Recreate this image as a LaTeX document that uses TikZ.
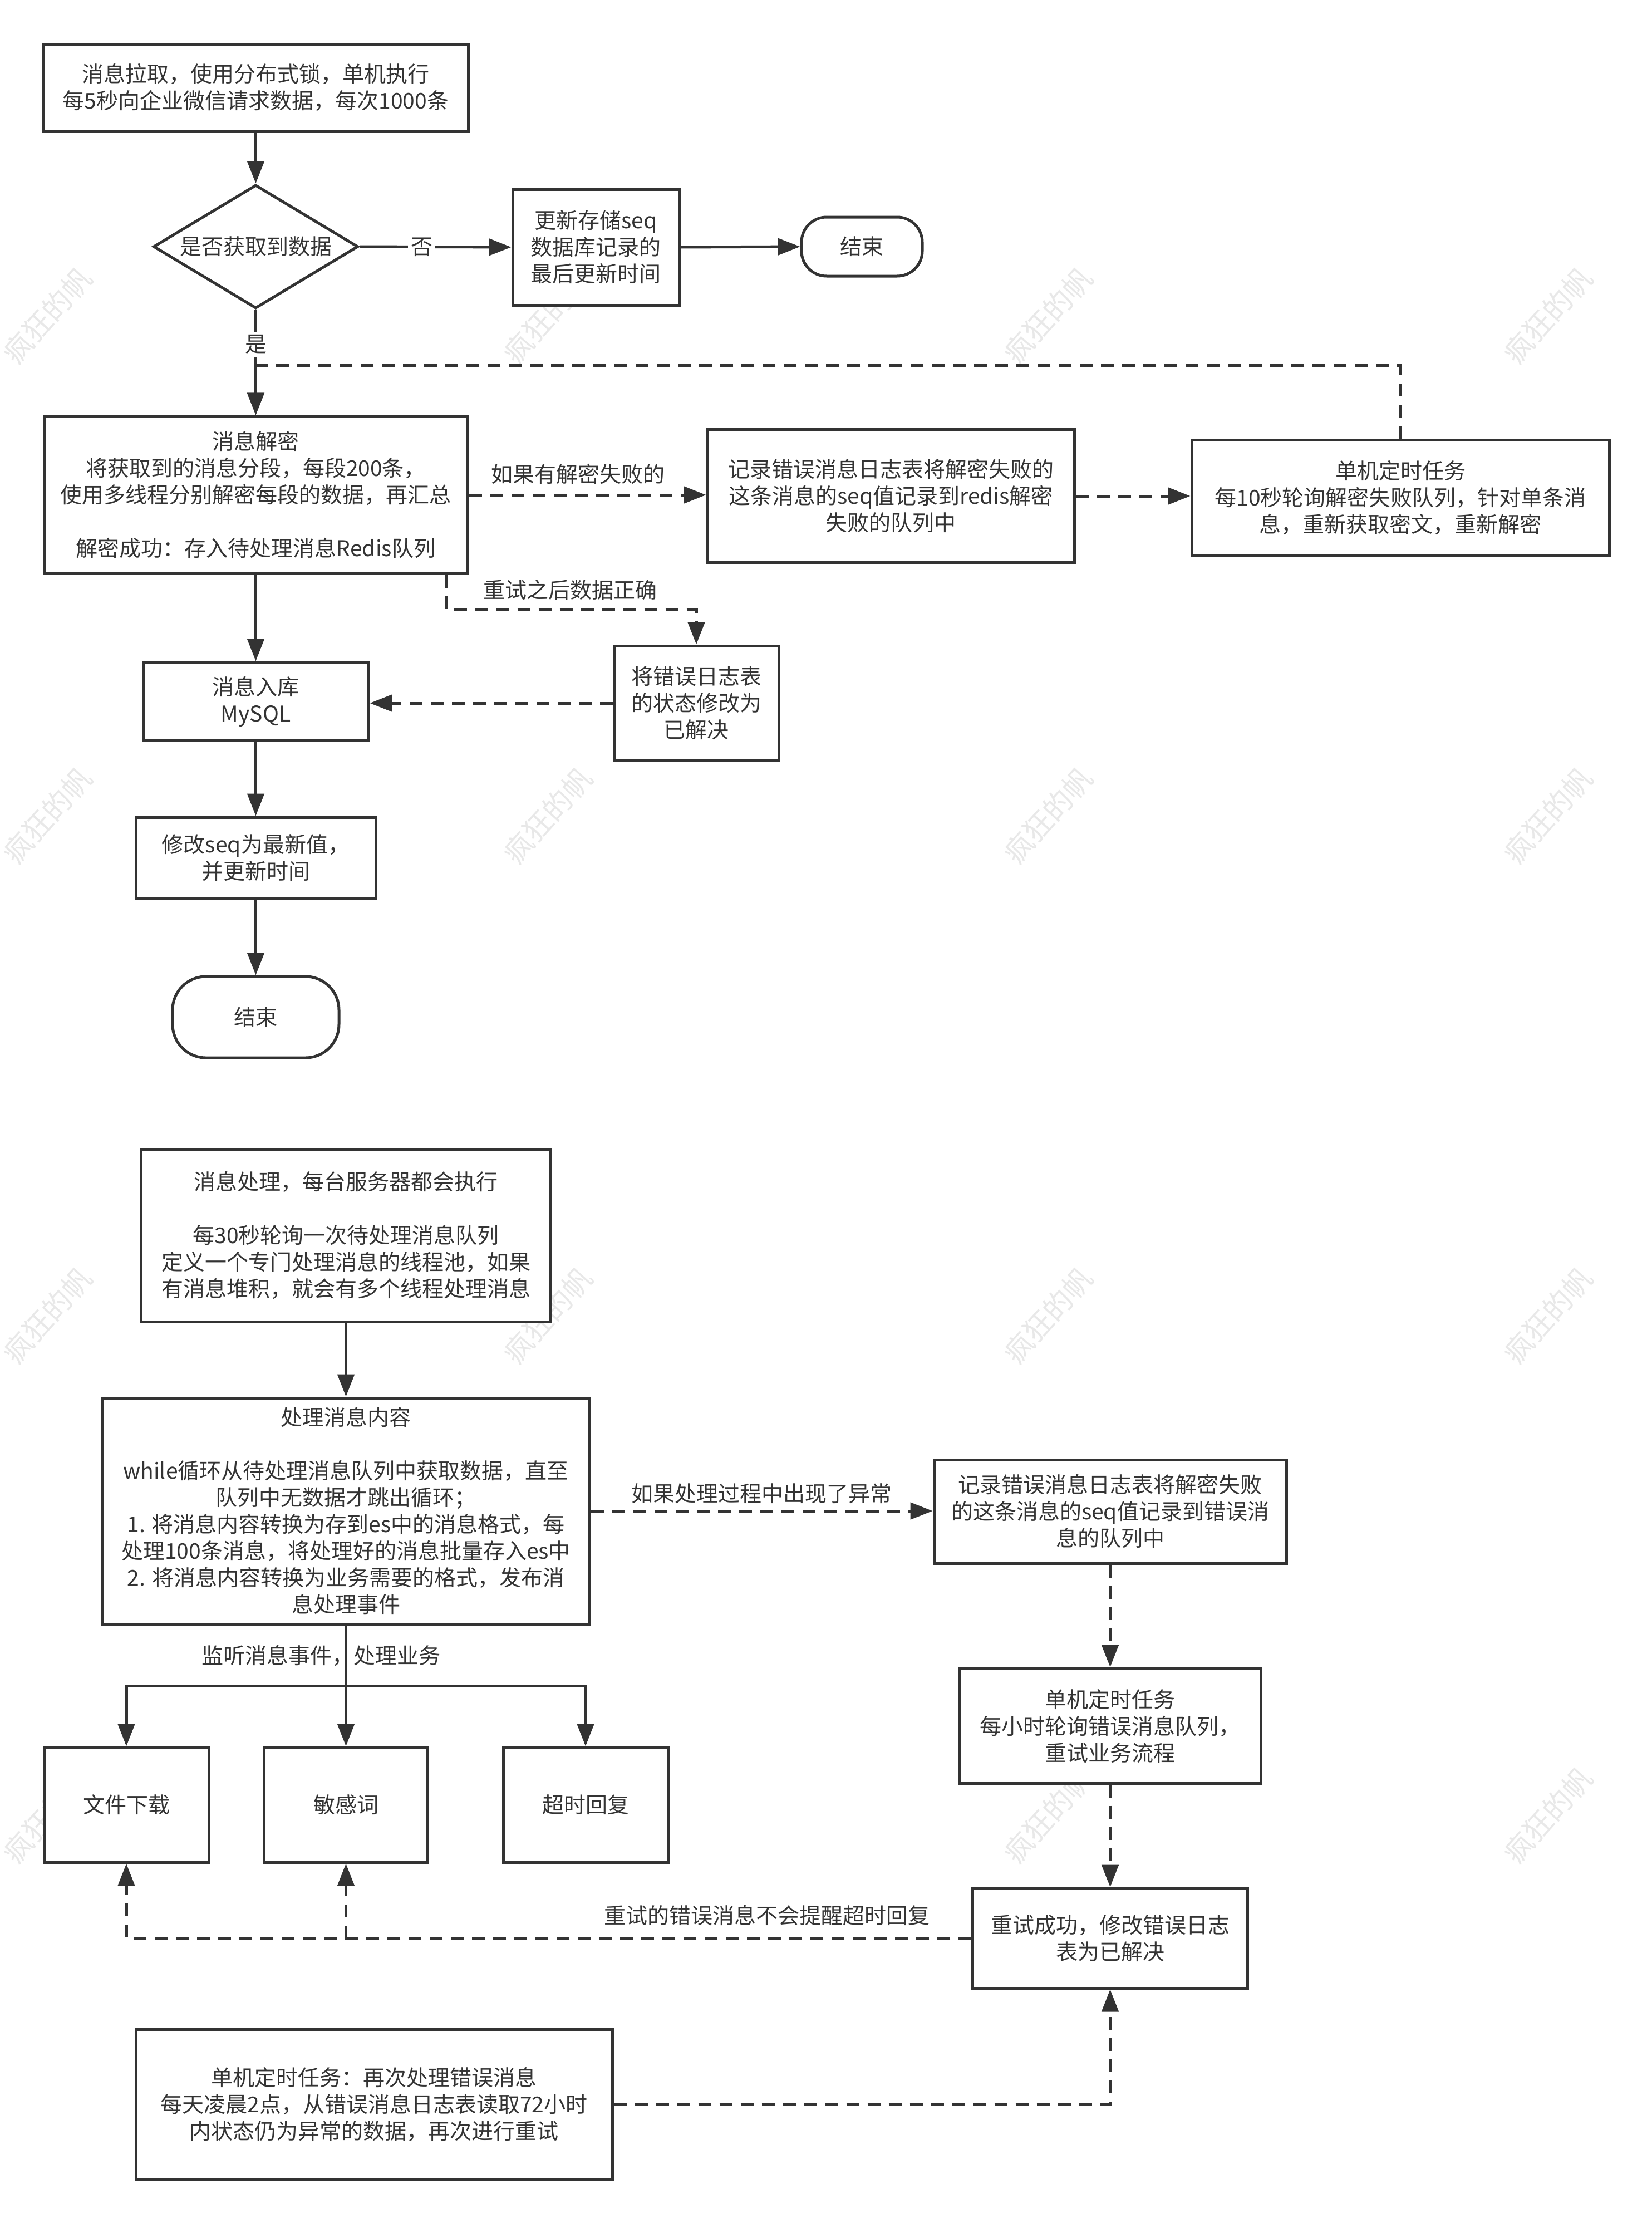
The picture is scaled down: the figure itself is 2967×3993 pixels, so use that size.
\documentclass[tikz,border=0pt]{standalone}
\usepackage{fontspec}
\setmainfont{Noto Sans CJK SC}
\usetikzlibrary{arrows.meta,shapes.geometric}
\definecolor{ink}{HTML}{333333}
\begin{document}
\begin{tikzpicture}[x=1pt,y=-1pt,
  every node/.style={font=\fontsize{39}{48}\selectfont, text=ink},
  box/.style={draw=ink, line width=5pt, fill=white, align=center, inner sep=0pt},
  arr/.style={draw=ink, line width=5pt, -{Triangle[length=40pt,width=30pt]}},
  darr/.style={arr, dash pattern=on 23pt off 15pt},
  lbl/.style={fill=white, inner sep=5pt},
  wm/.style={rotate=48, text=black, opacity=0.09, font=\fontsize{52}{52}\selectfont}
]
\useasboundingbox[fill=white] (0,0) rectangle (2967,3993);

% ---------- watermarks (behind everything) ----------
\foreach \i/\xx in {1/85,2/984,3/1883,4/2781}{
  \foreach \j/\yy in {1/567,2/1465,3/2363,4/3261}{
    \node[wm] (wm\i\j) at (\xx,\yy) {疯狂的帆};
  }
}

% ---------- top section ----------
\node[box, minimum width=763pt, minimum height=155pt] (a) at (459.5,157.5)
  {消息拉取，使用分布式锁，单机执行\\每5秒向企业微信请求数据，每次1000条};
\node[box, shape=diamond, minimum width=368pt, minimum height=222pt] (dia) at (459.5,443) {};
\node (diat) at (dia.center) {是否获取到数据};
\node[box, minimum width=299pt, minimum height=208pt] (upd) at (1070.5,444)
  {更新存储seq\\数据库记录的\\最后更新时间};
\node[box, rounded corners=45pt, minimum width=217pt, minimum height=106pt] (end1) at (1548.5,443) {结束};

\node[box, minimum width=761pt, minimum height=282pt] (dec) at (459.5,889)
  {消息解密\\将获取到的消息分段，每段200条，\\使用多线程分别解密每段的数据，再汇总\\[48pt]解密成功：存入待处理消息Redis队列};
\node[box, minimum width=659pt, minimum height=239pt] (err) at (1600.5,891)
  {记录错误消息日志表将解密失败的\\这条消息的seq值记录到redis解密\\失败的队列中};
\node[box, minimum width=750pt, minimum height=208pt] (tmr) at (2516,894)
  {单机定时任务\\每10秒轮询解密失败队列，针对单条消\\息，重新获取密文，重新解密};

\node[box, minimum width=296pt, minimum height=206pt] (res) at (1251,1263)
  {将错误日志表\\的状态修改为\\已解决};
\node[box, minimum width=405pt, minimum height=140pt] (sql) at (459.5,1260)
  {消息入库\\MySQL};
\node[box, minimum width=431pt, minimum height=146pt] (seq) at (459.5,1541)
  {修改seq为最新值，\\并更新时间};
\node[box, rounded corners=60pt, minimum width=299pt, minimum height=146pt] (end2) at (459.5,1827) {结束};

\draw[arr] (a.south) -- (dia.north);
\draw[arr] (dia.east) -- node[lbl, pos=0.41]{否} (upd.west);
\draw[arr] (upd.east) -- (end1.west);
\draw[arr] (dia.south) -- node[lbl, pos=0.33]{是} (dec.north);
\draw[darr] (tmr.north) -- ++(0,-131) -| (dec.north);
\draw[darr] (dec.east) -- node[pos=0.46, yshift=37pt]{如果有解密失败的} (dec.east -| err.west);
\draw[darr] (err.east) -- (err.east -| tmr.west);
\draw[darr] ([xshift=-40pt]dec.south east) -- ++(0,63)
  -| node[pos=0.247, yshift=36pt]{重试之后数据正确} (res.north);
\draw[darr] (res.west) -- (res.west -| sql.east);
\draw[arr] (dec.south) -- (sql.north);
\draw[arr] (sql.south) -- (seq.north);
\draw[arr] (seq.south) -- (end2.north);

% ---------- bottom section ----------
\node[box, minimum width=736pt, minimum height=310pt] (p1) at (621.5,2219)
  {消息处理，每台服务器都会执行\\[48pt]每30秒轮询一次待处理消息队列\\定义一个专门处理消息的线程池，如果\\有消息堆积，就会有多个线程处理消息};
\node[box, minimum width=876pt, minimum height=406pt] (p2) at (621.5,2714)
  {处理消息内容\\[48pt]while循环从待处理消息队列中获取数据，直至\\队列中无数据才跳出循环；\\1. 将消息内容转换为存到es中的消息格式，每\\处理100条消息，将处理好的消息批量存入es中\\2. 将消息内容转换为业务需要的格式，发布消\\息处理事件};
\node[box, minimum width=633pt, minimum height=186pt] (e2) at (1994.5,2715)
  {记录错误消息日志表将解密失败\\的这条消息的seq值记录到错误消\\息的队列中};
\node[box, minimum width=541pt, minimum height=206pt] (t2) at (1994.5,3100)
  {单机定时任务\\每小时轮询错误消息队列，\\重试业务流程};
\node[box, minimum width=494pt, minimum height=179pt] (ok) at (1994.5,3481.5)
  {重试成功，修改错误日志\\表为已解决};
\node[box, minimum width=296pt, minimum height=206pt] (f1) at (227,3242) {文件下载};
\node[box, minimum width=294pt, minimum height=206pt] (f2) at (621.5,3242) {敏感词};
\node[box, minimum width=296pt, minimum height=206pt] (f3) at (1052,3242) {超时回复};
\node[box, minimum width=856pt, minimum height=270pt] (n26) at (672,3780)
  {单机定时任务：再次处理错误消息\\每天凌晨2点，从错误消息日志表读取72小时\\内状态仍为异常的数据，再次进行重试};

\coordinate (br) at (621.5,3028);
\draw[arr] (p1.south) -- (p2.north);
\draw[darr] (p2.east) -- node[pos=0.5, yshift=31pt]{如果处理过程中出现了异常} (p2.east -| e2.west);
\draw[darr] (e2.south) -- (t2.north);
\draw[darr] (t2.south) -- (ok.north);
\draw[arr] (p2.south) -- node[xshift=-45pt]{监听消息事件，处理业务} (br) -| (f1.north);
\draw[arr] (br) -| (f3.north);
\draw[arr] (br) -- (f2.north);
\draw[darr] (ok.west) -| node[pos=0.121, yshift=41pt]{重试的错误消息不会提醒超时回复} (f1.south);
\draw[darr] (ok.west -| f2.south) -- (f2.south);
\draw[darr] (n26.east) -| (ok.south);
\end{tikzpicture}
\end{document}
